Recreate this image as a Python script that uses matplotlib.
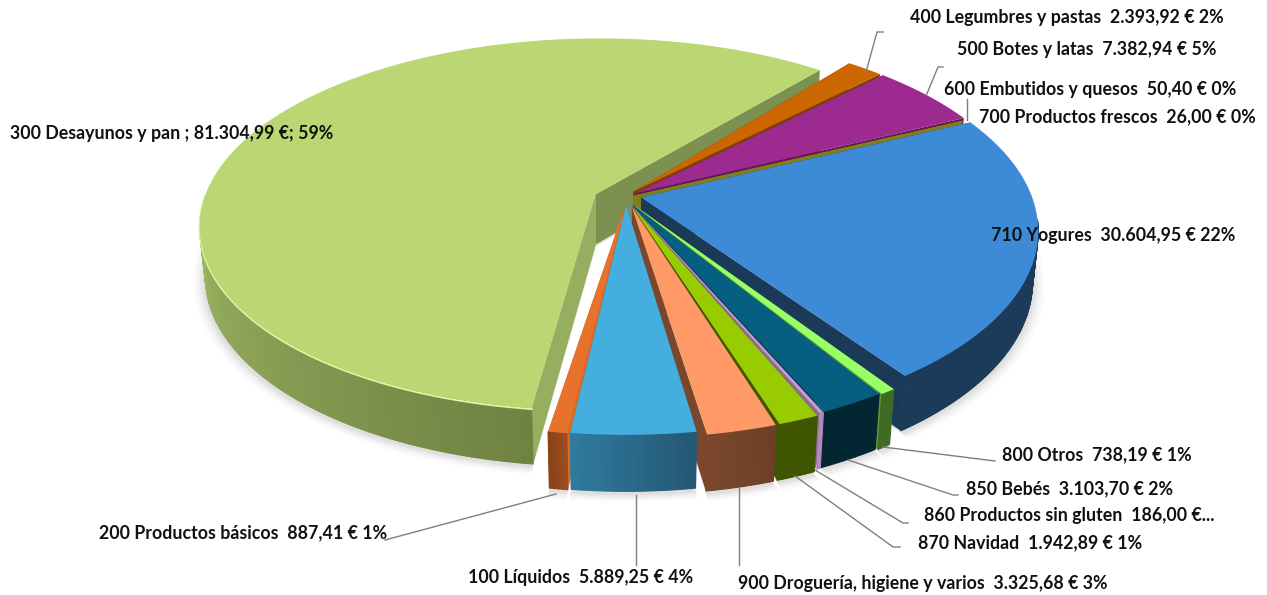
import numpy as np
import matplotlib
matplotlib.use("Agg")
import matplotlib.pyplot as plt
from matplotlib.collections import PolyCollection
from matplotlib.colors import to_rgb

# ---- data -----------------------------------------------------------------
CODES = ["100", "200", "300", "400", "500", "600", "700", "710", "800", "850", "860", "870", "900"]
VALUES = [5889.25, 887.41, 81304.99, 2393.92, 7382.94, 50.40, 26.00, 30604.95, 738.19, 3103.70, 186.00, 1942.89, 3325.68]
LABELS = ["100 Líquidos  5.889,25 € 4%", "200 Productos básicos  887,41 € 1%",
          "300 Desayunos y pan ; 81.304,99 €; 59%", "400 Legumbres y pastas  2.393,92 € 2%",
          "500 Botes y latas  7.382,94 € 5%", "600 Embutidos y quesos  50,40 € 0%",
          "700 Productos frescos  26,00 € 0%", "710 Yogures  30.604,95 € 22%",
          "800 Otros  738,19 € 1%", "850 Bebés  3.103,70 € 2%",
          "860 Productos sin gluten  186,00 €...", "870 Navidad  1.942,89 € 1%",
          "900 Droguería, higiene y varios  3.325,68 € 3%"]

# ---- style ----------------------------------------------------------------
TOP = ["#44AEDF", "#E8722C", "#BAD774", "#CC6600", "#9C2A8F", "#7A1F1F", "#7F7F1E", "#3D8AD6",
       "#99FF66", "#065F80", "#C79BD0", "#99CC00", "#FF9966"]
WALL_START = ["#2A6C8C", "#DA6A28", "#95AE5F", "#7F4000", "#5E1A58", "#7A1F1F", "#7F7F1E", "#173650",
              "#5A9A3A", "#033A4E", "#8A6A90", "#4F6B00", "#7A472C"]
WALL_END = ["#2A6C8C", "#DA6A28", "#7C9150", "#7F4000", "#5E1A58", "#7A1F1F", "#7F7F1E", "#1A3A57",
            "#5A9A3A", "#033A4E", "#8A6A90", "#3F5500", "#7A472C"]
RIM_A = ["#245873", "#9C4C1E", "#6F8242", "#7F4000", "#5E1A58", "#7A1F1F", "#5E5E14", "#1B3B58",
         "#3F6B22", "#022733", "#B08AB8", "#3F5500", "#6E3F27"]
RIM_B = ["#2F7A9F", "#8A4218", "#A5BF69", "#7F4000", "#5E1A58", "#7A1F1F", "#5E5E14", "#1B3B58",
         "#3F6B22", "#022733", "#B08AB8", "#3F5500", "#7A472C"]
RIM_SPAN = [1, 1, 0.42, 1, 1, 1, 1, 1, 1, 1, 1, 1, 1]
EXPLODE = [0.010, 0.012, 0.085, 0.02, 0.022, 0.015, 0.015, 0.042, 0.018, 0.016, 0.016, 0.024, 0.022]
SHIFT_X = [0.0, 0.0, 0.0, 0.005, 0.008, 0.005, 0.005, -0.002, 0.012, 0.010, 0.009, 0.008, 0.010]
SHIFT_Y = [0.0, 0.0, 0.012, 0.045, 0.040, 0.032, 0.032, 0.040, 0.002, 0.002, 0.002, 0.002, 0.0]
SQUASH = [1, 1, 0.965, 1, 1, 1, 1, 1, 1, 1, 1, 1, 1]
NUDGE = [2.4, 2.7, 0.5, 0, 0, 0, 0, 0, 1.0, 1.1, 1.2, 1.6, 2.0]   # perspective correction, degrees
DRAW_ORDER = ["300", "400", "500", "600", "700", "710", "800", "850", "860", "870", "900", "200", "100"]
START_ANGLE = 169.0

CX, CY, SCALE = 626.0, 203.0, 393.0
ELEV, DIST, HEIGHT = np.radians(29.0), 5.2, 0.148

LABEL_POS = {"100": (468, 577), "200": (99, 533), "300": (10, 133), "400": (910, 18), "500": (957, 50),
             "600": (944, 89), "700": (979, 117), "710": (991, 235), "800": (1002, 455), "850": (966, 489),
             "860": (924, 516), "870": (918, 543), "900": (738, 584)}
LEADERS = [[(866, 72), (877, 32), (883, 32)], [(926, 96), (938, 67), (943, 67)], [(967, 120), (967, 99)],
           [(385, 540), (556, 494)], [(636, 495), (636, 565)], [(739, 487), (739, 565)],
           [(795, 476), (893, 547), (900, 547)], [(815, 470), (903, 523), (908, 523)],
           [(848, 460), (953, 495), (958, 495)], [(883, 447), (995, 461)]]


def project(x, y, z):
    s, c = np.sin(ELEV), np.cos(ELEV)
    depth = -y * c + z * s
    up = y * s + z * c
    k = DIST / (DIST - depth)
    return CX + SCALE * x * k, CY - SCALE * up * k


fig = plt.figure(figsize=(12.67, 5.95), dpi=100)
ax = fig.add_axes([0, 0, 1, 1])
ax.set_xlim(0, 1267)
ax.set_ylim(595, 0)
ax.axis("off")

shares = np.array(VALUES) / np.sum(VALUES) * 360.0
ends = START_ANGLE + np.cumsum(shares)
starts = ends - shares


def slice_geometry(i):
    th = np.radians(np.linspace(starts[i], ends[i], max(2, int(shares[i] * 1.5) + 2)) + NUDGE[i])
    mid = np.radians((starts[i] + ends[i]) / 2 + NUDGE[i])
    ox = EXPLODE[i] * np.sin(mid) + SHIFT_X[i]
    oy = EXPLODE[i] * np.cos(mid) + SHIFT_Y[i]
    return th, ox + np.sin(th), oy + SQUASH[i] * np.cos(th), ox, oy


# soft shadow under the pie
for grow, alpha in [(0.030, 0.025), (0.022, 0.035), (0.014, 0.05), (0.007, 0.06)]:
    for i in range(len(VALUES)):
        th, x, y, ox, oy = slice_geometry(i)
        if shares[i] < 1:
            continue
        gx = x + grow * np.sin(th)
        gy = y + grow * np.cos(th)
        px, py = project(np.r_[ox, gx], np.r_[oy, gy], np.full(len(gx) + 1, -HEIGHT))
        ax.fill(px, py + 2, color="#404040", alpha=alpha, lw=0, zorder=1)

z = 2
for code in DRAW_ORDER:
    i = CODES.index(code)
    th, x, y, ox, oy = slice_geometry(i)
    # radial walls
    for (ex, ey), col in [((x[0], y[0]), WALL_START[i]), ((x[-1], y[-1]), WALL_END[i])]:
        wx, wy = project(np.array([ox, ex, ex, ox]), np.array([oy, ey, ey, oy]),
                         np.array([0, 0, -HEIGHT, -HEIGHT]))
        ax.fill(wx, wy, color=col, lw=0, zorder=z)
    # outer rim, only the part that faces the viewer, shaded segment by segment
    tx, ty = project(x, y, np.zeros_like(x))
    bx, by = project(x, y, np.full_like(x, -HEIGHT))
    a, b = np.array(to_rgb(RIM_A[i])), np.array(to_rgb(RIM_B[i]))
    n = len(x) - 1
    frac = np.minimum(1.0, np.arange(n) / max(n - 1, 1) / RIM_SPAN[i])
    keep = [j for j in range(n) if np.cos((th[j] + th[j + 1]) / 2) < -0.12]
    polys = [[(tx[j], ty[j]), (tx[j + 1], ty[j + 1]), (bx[j + 1], by[j + 1]), (bx[j], by[j])] for j in keep]
    cols = [tuple(a + (b - a) * frac[j]) for j in keep]
    if polys:
        ax.add_collection(PolyCollection(polys, facecolors=cols, edgecolors=cols, linewidths=0.8, zorder=z))
    # top face
    px, py = project(np.r_[ox, x], np.r_[oy, y], np.zeros(len(x) + 1))
    ax.fill(px, py, color=TOP[i], lw=0, zorder=z + 0.5)
    if code == "300":
        front = np.cos(th) < 0.0
        ax.plot(tx[front], ty[front] + 0.8, color="#E2F79E", lw=1.4, zorder=z + 0.4)
    z += 1

for pts in LEADERS:
    ax.plot(*zip(*pts), color="#7F7F7F", lw=1.0, zorder=30)

for code, lab in zip(CODES, LABELS):
    px, py = LABEL_POS[code]
    ax.text(px, py, lab, family="Lato", fontweight="bold", fontsize=12.8, color="#111111",
            ha="left", va="center", zorder=40)

fig.savefig("out.png", dpi=100, facecolor="white")
